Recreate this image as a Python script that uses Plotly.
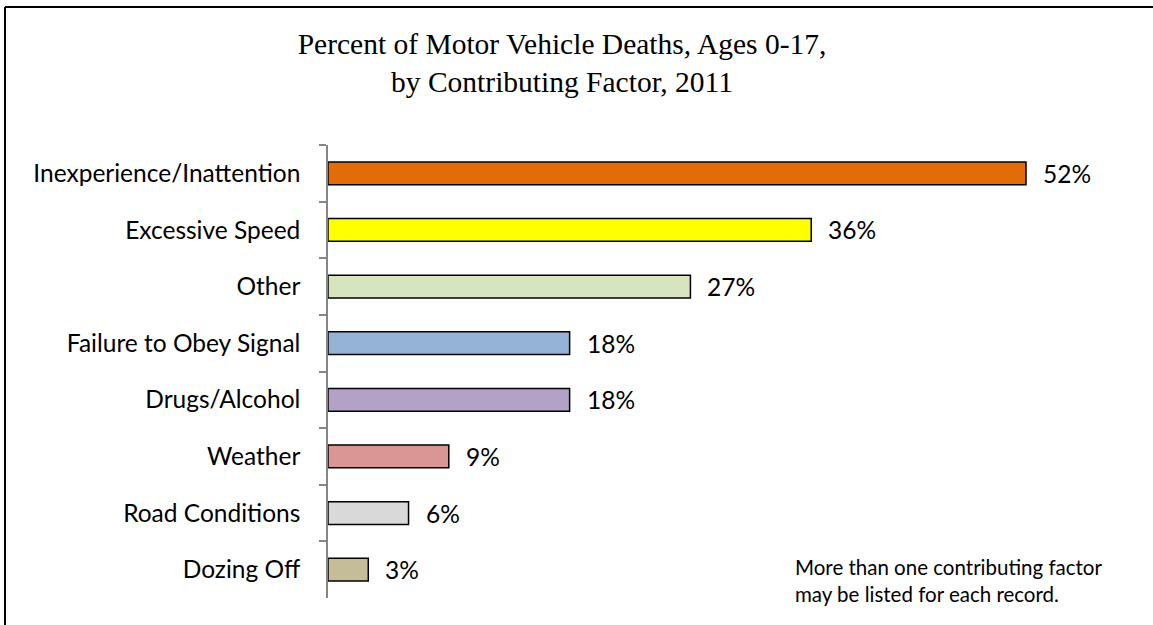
import plotly.graph_objects as go

categories = ["Inexperience/Inattention", "Excessive Speed", "Other", "Failure to Obey Signal",
              "Drugs/Alcohol", "Weather", "Road Conditions", "Dozing Off"]
values = [52, 36, 27, 18, 18, 9, 6, 3]
colors = ["#E36C09", "#FFFF00", "#D7E4BD", "#95B3D7", "#B3A2C7", "#D99694", "#D9D9D9", "#C4BD97"]

W, H = 1153, 625
L, R, T, B = 328, 53, 145, 27
pw, ph = W - L - R, H - T - B
xmax = pw / (698 / 52)
SANS = "Lato, Open Sans, sans-serif"

fig = go.Figure(go.Bar(
    y=categories, x=values, orientation="h",
    marker=dict(color=colors, line=dict(color="black", width=1.5)),
    width=0.4, hoverinfo="skip",
))

for c, v in zip(categories, values):
    fig.add_annotation(x=v, y=c, text=f"{v}%", showarrow=False, xanchor="left",
                       xshift=15, font=dict(family=SANS, size=24.5, color="black"))

fig.add_annotation(xref="paper", yref="paper", x=(793 - L) / pw, y=(H - B - 580) / ph,
                   text="More than one contributing factor<br>may be listed for each record.",
                   showarrow=False, xanchor="left", yanchor="middle", align="left",
                   font=dict(family=SANS, size=20.5, color="black"))

# figure frame (left and top edges visible; right/bottom lie outside the picture)
bx0 = (5 - L) / pw
bx1 = (W - L) / pw
by1 = (H - B - 7) / ph
by0 = -B / ph
fig.add_shape(type="line", xref="paper", yref="paper", x0=bx0, x1=bx0, y0=by0, y1=by1,
              line=dict(color="black", width=2))
fig.add_shape(type="line", xref="paper", yref="paper", x0=bx0, x1=bx1, y0=by1, y1=by1,
              line=dict(color="black", width=2))

fig.update_layout(
    width=W, height=H,
    margin=dict(l=L, r=R, t=T, b=B),
    paper_bgcolor="white", plot_bgcolor="white",
    showlegend=False,
    title=dict(text="Percent of Motor Vehicle Deaths, Ages 0-17,<br>by Contributing Factor, 2011",
               x=(562) / W, xanchor="center", y=1 - 54 / H, yanchor="middle",
               font=dict(family="Liberation Serif, Times New Roman, serif", size=29.5, color="black")),
    xaxis=dict(range=[0, xmax], visible=False),
    yaxis=dict(autorange="reversed", showline=True, linecolor="#868686", linewidth=1.5,
               ticks="outside", tickson="boundaries", ticklen=7, tickcolor="#868686", tickwidth=1.5,
               ticklabelstandoff=21,
               tickfont=dict(family=SANS, size=24.5, color="black"),
               showgrid=False),
)

fig.write_html("out.html", config={"displayModeBar": False},
               post_script="document.body.style.margin='0';document.body.style.overflow='hidden';")
